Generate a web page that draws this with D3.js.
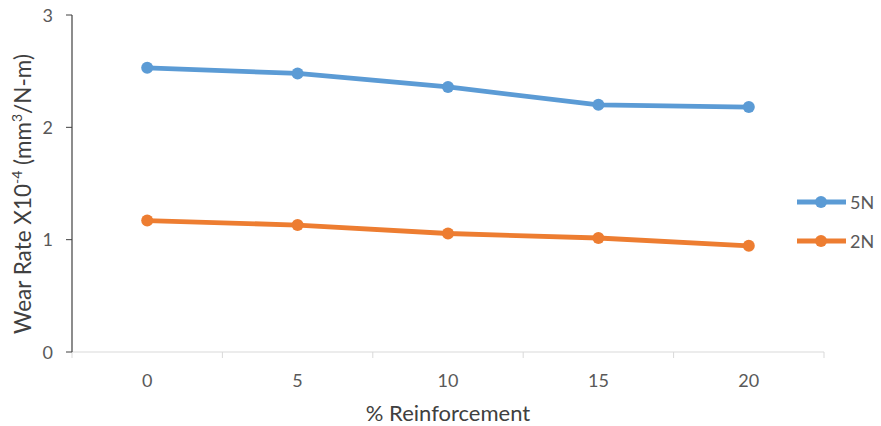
<!DOCTYPE html>
<html><head><meta charset="utf-8">
<script src="https://cdn.jsdelivr.net/npm/d3@7"></script>
<style>body{margin:0;background:#fff}svg{display:block}text{font-family:Lato,"Open Sans",sans-serif}</style>
</head><body>
<svg id="c" width="881" height="426"></svg>
<script>
const categories = ["0","5","10","15","20"];
const series5N = [2.53, 2.48, 2.36, 2.20, 2.18];
const series2N = [1.17, 1.13, 1.055, 1.015, 0.945];
const yTicks = [0,1,2,3];
const seriesNames = ["5N","2N"];
const colors = ["#5B9BD5","#ED7D31"];

const svg = d3.select("#c");
const m = {l:72, r:57, t:15, b:74};
const W = 881, H = 426;
const x = d3.scaleBand().domain(categories).range([m.l, W - m.r]);
const y = d3.scaleLinear().domain([0,3]).range([H - m.b, m.t]);

// x axis
const xa = svg.append("g").attr("transform",`translate(0,${H-m.b})`);
xa.append("line").attr("x1",m.l).attr("x2",W-m.r).attr("stroke","#D9D9D9").attr("stroke-width",1);
const bounds = categories.map(c=>x(c)).concat([x(categories[categories.length-1])+x.bandwidth()]);
xa.selectAll(".tk").data(bounds).join("line").attr("x1",d=>d).attr("x2",d=>d).attr("y1",0).attr("y2",6).attr("stroke","#D9D9D9");
xa.selectAll(".lb").data(categories).join("text").attr("x",d=>x(d)+x.bandwidth()/2).attr("y",35)
  .attr("text-anchor","middle").attr("fill","#595959").attr("font-size",18).text(d=>d);

// y axis
const ya = svg.append("g");
ya.append("line").attr("x1",m.l).attr("x2",m.l).attr("y1",y(0)).attr("y2",y(3)).attr("stroke","#404040").attr("stroke-width",1.2);
ya.selectAll(".tk").data(yTicks).join("line").attr("x1",m.l-6).attr("x2",m.l).attr("y1",d=>y(d)).attr("y2",d=>y(d)).attr("stroke","#404040");
ya.selectAll(".lb").data(yTicks).join("text").attr("x",m.l-19).attr("y",d=>y(d)+6.5)
  .attr("text-anchor","end").attr("fill","#595959").attr("font-size",18).text(d=>d);

// axis titles
svg.append("text").attr("x",(m.l+W-m.r)/2).attr("y",421).attr("text-anchor","middle")
  .attr("fill","#404040").attr("font-size",22).text("% Reinforcement");
const yt = svg.append("text").attr("transform",`translate(31,194) rotate(-90)`)
  .attr("text-anchor","middle").attr("fill","#404040").attr("font-size",22.5);
yt.append("tspan").text("Wear Rate X10");
yt.append("tspan").attr("dy",-9).attr("font-size",14).text("-4");
yt.append("tspan").attr("dy",9).text(" (mm");
yt.append("tspan").attr("dy",-9).attr("font-size",14).text("3");
yt.append("tspan").attr("dy",9).text("/N-m)");

// series
const all = [series5N, series2N];
const line = d3.line().x((d,i)=>x(categories[i])+x.bandwidth()/2).y(d=>y(d));
all.forEach((s,k)=>{
  svg.append("path").datum(s).attr("d",line).attr("fill","none").attr("stroke",colors[k]).attr("stroke-width",4.8).attr("stroke-linejoin","round");
  svg.selectAll(".pt"+k).data(s).join("circle").attr("cx",(d,i)=>x(categories[i])+x.bandwidth()/2).attr("cy",d=>y(d)).attr("r",6).attr("fill",colors[k]);
});

// legend
const lg = svg.append("g");
seriesNames.forEach((n,k)=>{
  const ly = 202 + k*39;
  lg.append("line").attr("x1",797).attr("x2",846).attr("y1",ly).attr("y2",ly).attr("stroke",colors[k]).attr("stroke-width",4.8);
  lg.append("circle").attr("cx",821).attr("cy",ly).attr("r",6).attr("fill",colors[k]);
  lg.append("text").attr("x",850).attr("y",ly+6.5).attr("fill","#595959").attr("font-size",18).text(n);
});
</script>
</body></html>
